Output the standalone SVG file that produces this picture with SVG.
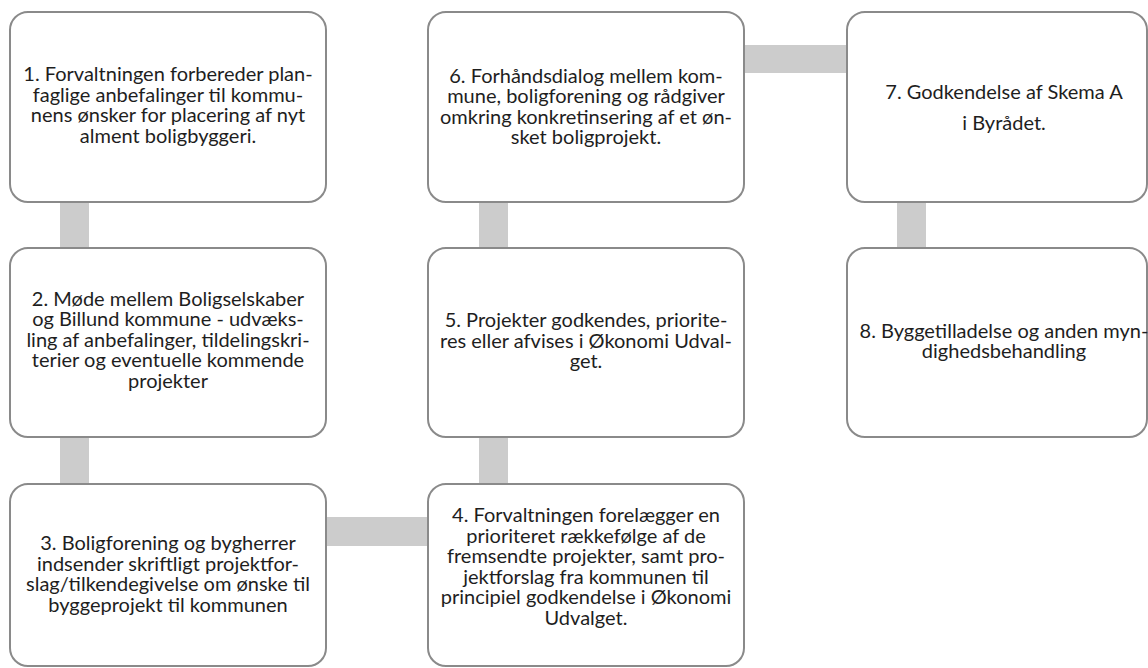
<svg xmlns="http://www.w3.org/2000/svg" width="1148" height="668" viewBox="0 0 1148 668">
<style>
.box{fill:#ffffff;stroke:#8a8a8a;stroke-width:2}
.bar{fill:#cccccc}
text{font-family:Lato,"Liberation Sans",sans-serif;font-size:20px;fill:#1e1e1e;text-anchor:middle}
</style>
<rect width="1148" height="668" fill="#ffffff"/>
<g id="connectors">
<rect class="bar" x="60" y="202" width="29" height="46"/>
<rect class="bar" x="60" y="437" width="29" height="47"/>
<rect class="bar" x="326" y="517" width="102" height="29"/>
<rect class="bar" x="479" y="437" width="29" height="47"/>
<rect class="bar" x="479" y="202" width="29" height="46"/>
<rect class="bar" x="744" y="45" width="103" height="28"/>
<rect class="bar" x="897" y="202" width="29" height="46"/>
</g>
<g id="node1">
<rect class="box" x="10" y="12" width="316" height="190" rx="18"/>
<text x="168" y="81">1. Forvaltningen forbereder plan-</text>
<text x="168" y="101.5">faglige anbefalinger til kommu-</text>
<text x="168" y="122">nens ønsker for placering af nyt</text>
<text x="168" y="142.5">alment boligbyggeri.</text>
</g>
<g id="node2">
<rect class="box" x="10" y="248" width="316" height="189" rx="18"/>
<text x="168" y="306">2. Møde mellem Boligselskaber</text>
<text x="168" y="326.4">og Billund kommune - udvæks-</text>
<text x="168" y="346.8">ling af anbefalinger, tildelingskri-</text>
<text x="168" y="367.2">terier og eventuelle kommende</text>
<text x="168" y="387.6">projekter</text>
</g>
<g id="node3">
<rect class="box" x="10" y="484" width="316" height="182" rx="18"/>
<text x="168" y="550">3. Boligforening og bygherrer</text>
<text x="168" y="570.5">indsender skriftligt projektfor-</text>
<text x="168" y="591">slag/tilkendegivelse om ønske til</text>
<text x="168" y="611.5">byggeprojekt til kommunen</text>
</g>
<g id="node4">
<rect class="box" x="428" y="484" width="316" height="182" rx="18"/>
<text x="586" y="522">4. Forvaltningen forelægger en</text>
<text x="586" y="542.5">prioriteret rækkefølge af de</text>
<text x="586" y="563">fremsendte projekter, samt pro-</text>
<text x="586" y="583.5">jektforslag fra kommunen til</text>
<text x="586" y="604">principiel godkendelse i Økonomi</text>
<text x="586" y="624.5">Udvalget.</text>
</g>
<g id="node5">
<rect class="box" x="428" y="248" width="316" height="189" rx="18"/>
<text x="586" y="327">5. Projekter godkendes, priorite-</text>
<text x="586" y="347.5">res eller afvises i Økonomi Udval-</text>
<text x="586" y="368">get.</text>
</g>
<g id="node6">
<rect class="box" x="428" y="12" width="316" height="190" rx="18"/>
<text x="586" y="82.5">6. Forhåndsdialog mellem kom-</text>
<text x="586" y="103">mune, boligforening og rådgiver</text>
<text x="586" y="123.5">omkring konkretinsering af et øn-</text>
<text x="586" y="144">sket boligprojekt.</text>
</g>
<g id="node7">
<rect class="box" x="847" y="12" width="300" height="190" rx="18"/>
<text x="1004" y="99">7. Godkendelse af Skema A</text>
<text x="1004" y="130">i Byrådet.</text>
</g>
<g id="node8">
<rect class="box" x="847" y="248" width="300" height="189" rx="18"/>
<text x="1004" y="337.5">8. Byggetilladelse og anden myn-</text>
<text x="1004" y="358">dighedsbehandling</text>
</g>
</svg>
